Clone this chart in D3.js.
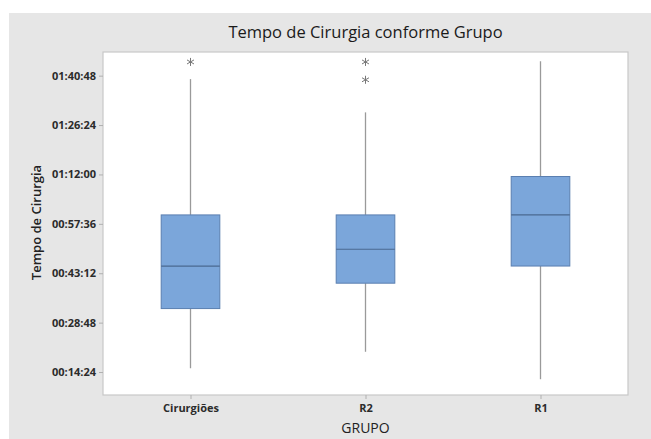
<!DOCTYPE html>
<html>
<head>
<meta charset="utf-8">
<script src="https://cdn.jsdelivr.net/npm/d3@7"></script>
<style>
  html, body { margin: 0; padding: 0; background: #ffffff; }
  svg { display: block; }
</style>
</head>
<body>
<svg id="chart" width="651" height="439"></svg>
<script>
// ---- data (minutes) ----
const categories = ["Cirurgiões", "R2", "R1"];
const whiskerLow  = [15.5, 20.3, 12.3];
const q1Values    = [32.9, 40.3, 45.3];
const medians     = [45.3, 50.2, 60.2];
const q3Values    = [60.2, 60.2, 71.4];
const whiskerHigh = [99.8, 90.1, 105.0];
const outliers    = [[104.8], [104.8, 99.6], []];
const tickLabels  = ["00:14:24", "00:28:48", "00:43:12", "00:57:36", "01:12:00", "01:26:24", "01:40:48"];
const yDomainMin  = [7.7, 107.7];

const toSec = s => { const [h, m, ss] = s.split(":").map(Number); return h * 3600 + m * 60 + ss; };
const fmt = sec => {
  const h = Math.floor(sec / 3600), m = Math.floor((sec % 3600) / 60), s = Math.round(sec % 60);
  return [h, m, s].map(v => String(v).padStart(2, "0")).join(":");
};

const svg = d3.select("#chart");
const W = 651, H = 439;
const plot = { left: 103, top: 52, right: 628, bottom: 395 };

// background
svg.append("rect").attr("x", 9).attr("y", 13).attr("width", W - 9).attr("height", H - 13).attr("fill", "#e6e6e6");
svg.append("rect").attr("x", plot.left).attr("y", plot.top)
  .attr("width", plot.right - plot.left).attr("height", plot.bottom - plot.top)
  .attr("fill", "#ffffff").attr("stroke", "#c8c8c8").attr("stroke-width", 1.2);

const x = d3.scalePoint().domain(categories).range([plot.left, plot.right]).padding(0.5);
const y = d3.scaleLinear().domain(yDomainMin.map(v => v * 60)).range([plot.bottom, plot.top]);
const boxW = x.step() * 0.335;

// axes
const yAxis = d3.axisLeft(y).tickValues(tickLabels.map(toSec)).tickFormat(fmt).tickSize(4).tickPadding(3);
const gy = svg.append("g").attr("transform", `translate(${plot.left},0)`).call(yAxis);
gy.select(".domain").remove();
gy.selectAll(".tick line").attr("stroke", "#b0b0b0");
gy.selectAll(".tick text").attr("fill", "#2b2b2b").style("font-family", "'Open Sans', sans-serif")
  .style("font-size", "11px").style("font-weight", "bold");

const xAxis = d3.axisBottom(x).tickSize(4).tickPadding(5);
const gx = svg.append("g").attr("transform", `translate(0,${plot.bottom})`).call(xAxis);
gx.select(".domain").remove();
gx.selectAll(".tick line").attr("stroke", "#b0b0b0");
gx.selectAll(".tick text").attr("fill", "#2b2b2b").style("font-family", "'Open Sans', sans-serif")
  .style("font-size", "11px").style("font-weight", "bold");

// boxes
const data = categories.map((c, i) => ({
  c, lo: whiskerLow[i], q1: q1Values[i], med: medians[i], q3: q3Values[i], hi: whiskerHigh[i], out: outliers[i]
}));
const g = svg.append("g");
data.forEach(d => {
  const cx = x(d.c);
  g.append("line").attr("x1", cx).attr("x2", cx).attr("y1", y(d.hi * 60)).attr("y2", y(d.q3 * 60))
    .attr("stroke", "#9a9a9a").attr("stroke-width", 1.3);
  g.append("line").attr("x1", cx).attr("x2", cx).attr("y1", y(d.q1 * 60)).attr("y2", y(d.lo * 60))
    .attr("stroke", "#9a9a9a").attr("stroke-width", 1.3);
  g.append("rect").attr("x", cx - boxW / 2).attr("y", y(d.q3 * 60))
    .attr("width", boxW).attr("height", y(d.q1 * 60) - y(d.q3 * 60))
    .attr("fill", "#7ba6da").attr("stroke", "#5a7fb0").attr("stroke-width", 1);
  g.append("line").attr("x1", cx - boxW / 2).attr("x2", cx + boxW / 2)
    .attr("y1", y(d.med * 60)).attr("y2", y(d.med * 60))
    .attr("stroke", "#4a6890").attr("stroke-width", 1.2);
  d.out.forEach(o => {
    g.append("path").attr("d", d3.symbol(d3.symbolAsterisk, 45)())
      .attr("transform", `translate(${cx},${y(o * 60)})`)
      .attr("fill", "none").attr("stroke", "#777777").attr("stroke-width", 1);
  });
});

// titles
svg.append("text").attr("x", (plot.left + plot.right) / 2).attr("y", 38).attr("text-anchor", "middle")
  .style("font-family", "'Open Sans', sans-serif").style("font-size", "16.5px").style("font-weight", "500").attr("fill", "#1a1a1a")
  .text("Tempo de Cirurgia conforme Grupo");
svg.append("text").attr("x", (plot.left + plot.right) / 2).attr("y", 433).attr("text-anchor", "middle")
  .style("font-family", "'Open Sans', sans-serif").style("font-size", "14px").attr("fill", "#222222")
  .text("GRUPO");
svg.append("text").attr("transform", `translate(41,${(plot.top + plot.bottom) / 2 - 1}) rotate(-90)`)
  .attr("text-anchor", "middle")
  .style("font-family", "'Open Sans', sans-serif").style("font-size", "13px").style("font-weight", "600").attr("fill", "#222222")
  .text("Tempo de Cirurgia");
</script>
</body>
</html>
